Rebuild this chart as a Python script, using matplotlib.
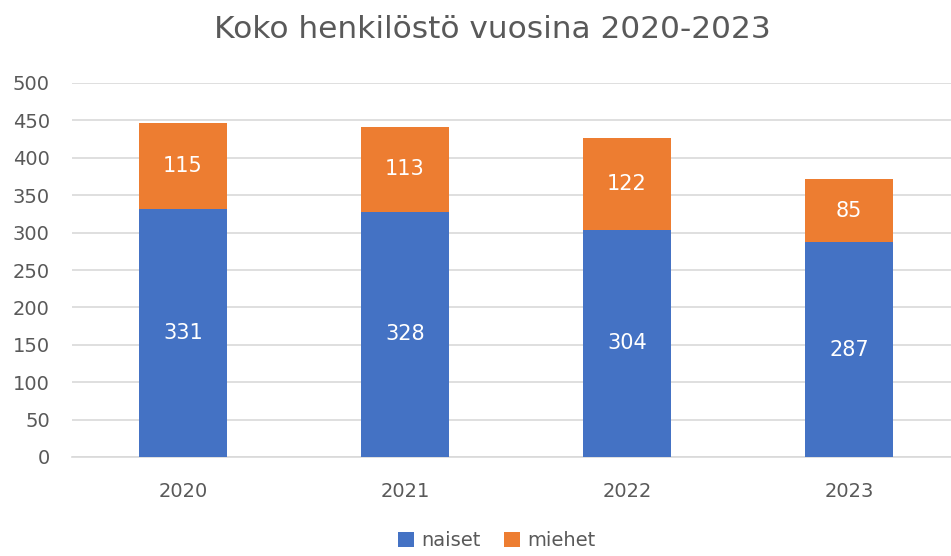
import numpy as np
import matplotlib.pyplot as plt

plt.rcParams['font.family'] = ['DejaVu Sans']

years = ['2020', '2021', '2022', '2023']
naiset = [331, 328, 304, 287]
miehet = [115, 113, 122, 85]

blue = '#4472C4'
orange = '#ED7D31'
text_col = '#595959'

fig = plt.figure(figsize=(9.51, 5.56), dpi=100)
ax = fig.add_axes([72 / 951, 99 / 556, 888 / 951, 374 / 556])

x = np.arange(len(years))
b1 = ax.bar(x, naiset, width=0.4, color=blue, label='naiset', zorder=3)
b2 = ax.bar(x, miehet, width=0.4, bottom=naiset, color=orange, label='miehet', zorder=3)

ax.bar_label(b1, label_type='center', color='white', fontsize=15)
ax.bar_label(b2, label_type='center', color='white', fontsize=15)

ax.set_xlim(-0.5, len(years) - 0.5)
ax.set_ylim(0, 500)
ax.set_yticks(range(0, 501, 50))
ax.set_xticks(x)
ax.set_xticklabels(years)
ax.tick_params(axis='both', length=0, labelsize=14, colors=text_col)
ax.tick_params(axis='x', pad=18)
ax.tick_params(axis='y', pad=16)
ax.grid(axis='y', color='#D9D9D9', linewidth=1.2, zorder=0)
for s in ['top', 'right', 'left']:
    ax.spines[s].set_visible(False)
ax.spines['bottom'].set_color('#D9D9D9')
ax.spines['bottom'].set_linewidth(1.2)

fig.text(492 / 951, 1 - 30 / 556, 'Koko henkilöstö vuosina 2020-2023',
         ha='center', va='center', fontsize=22.5, color=text_col)

fig.legend(loc='center', bbox_to_anchor=(497 / 951, 1 - 541 / 556), ncol=2,
           frameon=False, fontsize=14, labelcolor=text_col,
           handlelength=0.8, handleheight=0.8, handletextpad=0.4, columnspacing=1.2)

fig.savefig('out.png', dpi=100)
